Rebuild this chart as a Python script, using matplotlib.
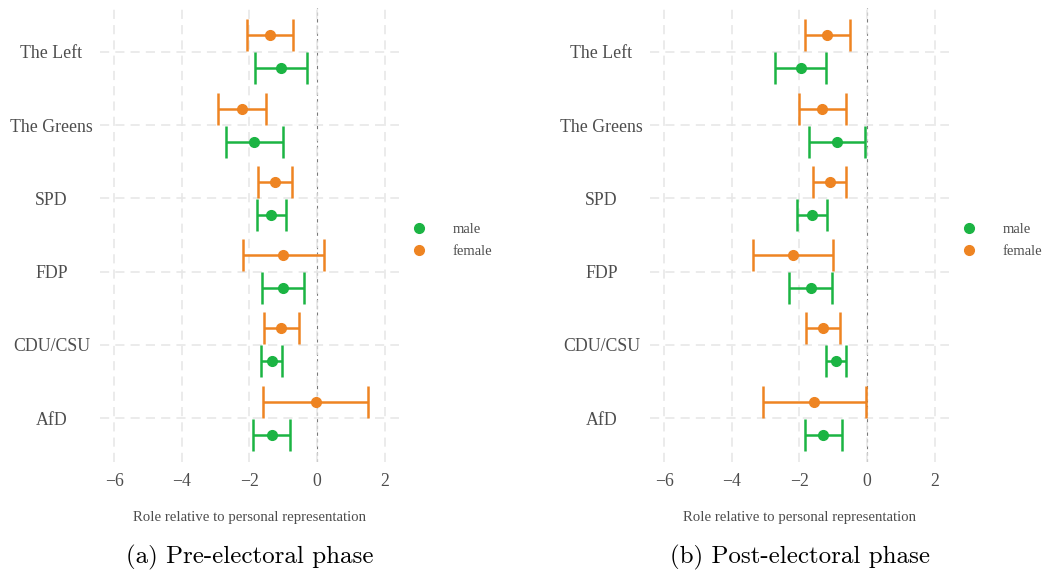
import numpy as np
import matplotlib
matplotlib.use("Agg")
import matplotlib.pyplot as plt
from matplotlib.lines import Line2D

plt.rcParams["font.family"] = ["Liberation Serif", "DejaVu Serif"]

# parties from bottom to top
parties = ["AfD", "CDU/CSU", "FDP", "SPD", "The Greens", "The Left"]

# pre-electoral phase
pre_male_est = [-1.34, -1.34, -1.02, -1.35, -1.86, -1.07]
pre_male_lo = [-1.91, -1.65, -1.63, -1.79, -2.68, -1.84]
pre_male_hi = [-0.79, -1.04, -0.38, -0.92, -1.02, -0.31]
pre_female_est = [-0.04, -1.06, -1.01, -1.25, -2.21, -1.38]
pre_female_lo = [-1.59, -1.56, -2.18, -1.74, -2.92, -2.07]
pre_female_hi = [1.51, -0.54, 0.19, -0.74, -1.51, -0.70]

# post-electoral phase
post_male_est = [-1.31, -0.93, -1.67, -1.63, -0.89, -1.96]
post_male_lo = [-1.85, -1.22, -2.30, -2.06, -1.71, -2.71]
post_male_hi = [-0.75, -0.63, -1.04, -1.20, -0.07, -1.23]
post_female_est = [-1.57, -1.30, -2.19, -1.11, -1.32, -1.19]
post_female_lo = [-3.09, -1.80, -3.36, -1.59, -2.02, -1.85]
post_female_hi = [-0.04, -0.79, -1.01, -0.63, -0.63, -0.52]

GREEN = "#1bb443"
ORANGE = "#ee8422"
TEXT = "#4d4d4d"


def draw_panel(ax, male, female):
    y = np.arange(1, len(parties) + 1)
    handles = []
    for (est, lo, hi), col, off, lab in [(male, GREEN, -0.225, "male"),
                                         (female, ORANGE, 0.225, "female")]:
        est = np.array(est)
        err = [est - np.array(lo), np.array(hi) - est]
        ax.errorbar(est, y + off, xerr=err, fmt="o", color=col, ms=7,
                    elinewidth=1.8, capsize=11.8, capthick=1.8)
        handles.append(Line2D([], [], ls="none", marker="o", ms=7,
                              color=col, label=lab))
    ax.axvline(0, color="#7a7a7a", ls=(0, (3, 3)), lw=0.8, zorder=0)
    ax.set_xlim(-6.42, 2.42)
    ax.set_ylim(0.4, 6.6)
    ax.set_xticks([-6, -4, -2, 0, 2])
    ax.set_yticks(y)
    ax.set_yticklabels(parties)
    for t in ax.get_yticklabels():
        t.set_ha("center")
    ax.tick_params(axis="y", length=0, pad=35, labelsize=12.8, labelcolor=TEXT)
    ax.tick_params(axis="x", length=0, pad=8, labelsize=12.8, labelcolor=TEXT)
    ax.grid(True, color="#e6e6e6", ls=(0, (6, 4)), lw=1.1)
    ax.set_axisbelow(True)
    for s in ax.spines.values():
        s.set_visible(False)
    ax.set_xlabel("Role relative to personal representation", fontsize=10.6,
                  color=TEXT, labelpad=15)
    leg = ax.legend(handles=handles, loc="center left",
                    bbox_to_anchor=(0.975, 0.488), frameon=False,
                    fontsize=10.5, handletextpad=1.3, labelspacing=0.65)
    for t in leg.get_texts():
        t.set_color(TEXT)


fig = plt.figure(figsize=(10.45, 5.73), dpi=100)
ax1 = fig.add_axes([0.0957, 0.1937, 0.2861, 0.7923])
ax2 = fig.add_axes([0.622, 0.1937, 0.2861, 0.7923])

draw_panel(ax1, (pre_male_est, pre_male_lo, pre_male_hi),
           (pre_female_est, pre_female_lo, pre_female_hi))
draw_panel(ax2, (post_male_est, post_male_lo, post_male_hi),
           (post_female_est, post_female_lo, post_female_hi))

fig.text(0.2387, 0.027, "(a) Pre-electoral phase", family="cmr10",
         fontsize=18, ha="center", va="center")
fig.text(0.7655, 0.027, "(b) Post-electoral phase", family="cmr10",
         fontsize=18, ha="center", va="center")

fig.savefig("out.png", dpi=100)
